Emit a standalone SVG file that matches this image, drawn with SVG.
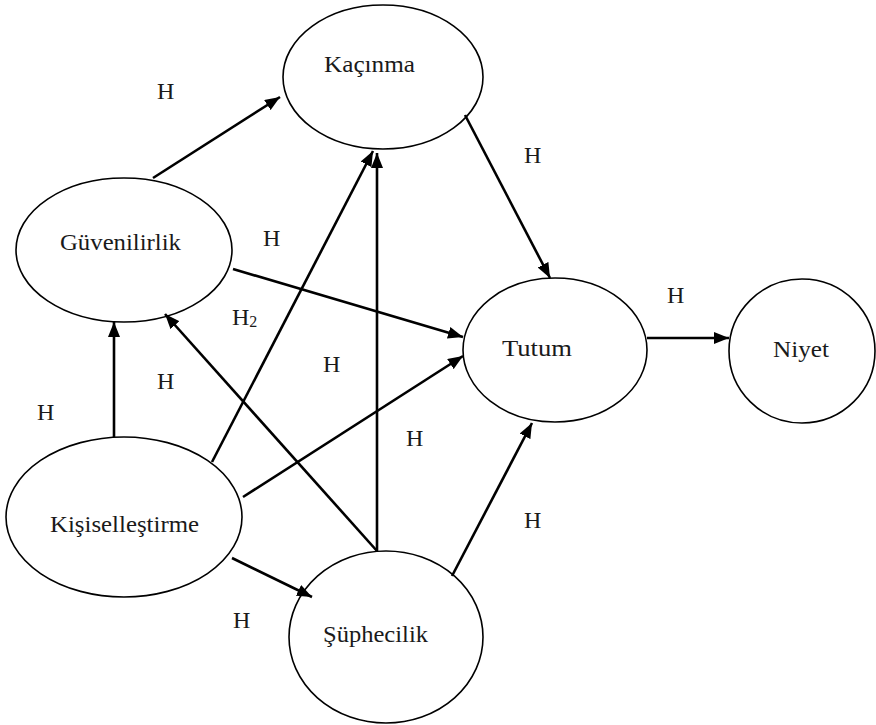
<svg xmlns="http://www.w3.org/2000/svg" width="876" height="725" viewBox="0 0 876 725">
<style>
.node{fill:#fff;stroke:#000;stroke-width:1.6}
.lbl{font-family:"Liberation Serif","DejaVu Serif",serif;font-size:24px;fill:#1a1a1a}
.h{font-family:"Liberation Serif","DejaVu Serif",serif;font-size:24px;fill:#1a1a1a}
.edge{stroke:#000;stroke-width:2.6;fill:none;marker-end:url(#arr)}
</style>
<defs>
<marker id="arr" markerUnits="userSpaceOnUse" markerWidth="16" markerHeight="12" refX="15" refY="6" orient="auto">
<path d="M0,0 L15,6 L0,12 z" fill="#000"/>
</marker>
</defs>
<rect width="876" height="725" fill="#fff"/>
<g id="nodes">
<g id="kacinma"><ellipse class="node" cx="383" cy="77" rx="100" ry="72"/><text class="lbl" x="324" y="72" textLength="91" lengthAdjust="spacingAndGlyphs">Kaçınma</text></g>
<g id="guvenilirlik"><ellipse class="node" cx="124" cy="250" rx="108" ry="72"/><text class="lbl" x="60" y="250" textLength="121" lengthAdjust="spacingAndGlyphs">Güvenilirlik</text></g>
<g id="kisisellestirme"><ellipse class="node" cx="124" cy="517" rx="118" ry="80"/><text class="lbl" x="50" y="532" textLength="149" lengthAdjust="spacingAndGlyphs">Kişiselleştirme</text></g>
<g id="suphecilik"><ellipse class="node" cx="386" cy="637" rx="97" ry="86"/><text class="lbl" x="323" y="642" textLength="105" lengthAdjust="spacingAndGlyphs">Şüphecilik</text></g>
<g id="tutum"><ellipse class="node" cx="555" cy="350" rx="92" ry="72"/><text class="lbl" x="502" y="356" textLength="70" lengthAdjust="spacingAndGlyphs">Tutum</text></g>
<g id="niyet"><ellipse class="node" cx="802" cy="351" rx="73" ry="72"/><text class="lbl" x="773" y="357" textLength="56" lengthAdjust="spacingAndGlyphs">Niyet</text></g>
</g>
<g id="connectors">
<line class="edge" x1="153" y1="178" x2="280" y2="97"/>
<line class="edge" x1="233" y1="269" x2="463" y2="337"/>
<line class="edge" x1="212" y1="462" x2="373" y2="151"/>
<line class="edge" x1="377" y1="551" x2="377" y2="153"/>
<line class="edge" x1="114" y1="437" x2="114" y2="322"/>
<line class="edge" x1="377" y1="551" x2="165" y2="314"/>
<line class="edge" x1="243" y1="497" x2="463" y2="356"/>
<line class="edge" x1="232" y1="558" x2="312" y2="597"/>
<line class="edge" x1="465" y1="115" x2="550" y2="278"/>
<line class="edge" x1="452" y1="576" x2="532" y2="423"/>
<line class="edge" x1="647" y1="338" x2="729" y2="338"/>
</g>
<g id="labels">
<text class="h" x="157" y="99">H</text>
<text class="h" x="263" y="246">H</text>
<text class="h" x="232" y="325">H<tspan font-size="16" dy="2">2</tspan></text>
<text class="h" x="157" y="389">H</text>
<text class="h" x="323" y="372">H</text>
<text class="h" x="37" y="420">H</text>
<text class="h" x="406" y="446">H</text>
<text class="h" x="233" y="628">H</text>
<text class="h" x="524" y="163">H</text>
<text class="h" x="667" y="303">H</text>
<text class="h" x="524" y="528">H</text>
</g>
</svg>
